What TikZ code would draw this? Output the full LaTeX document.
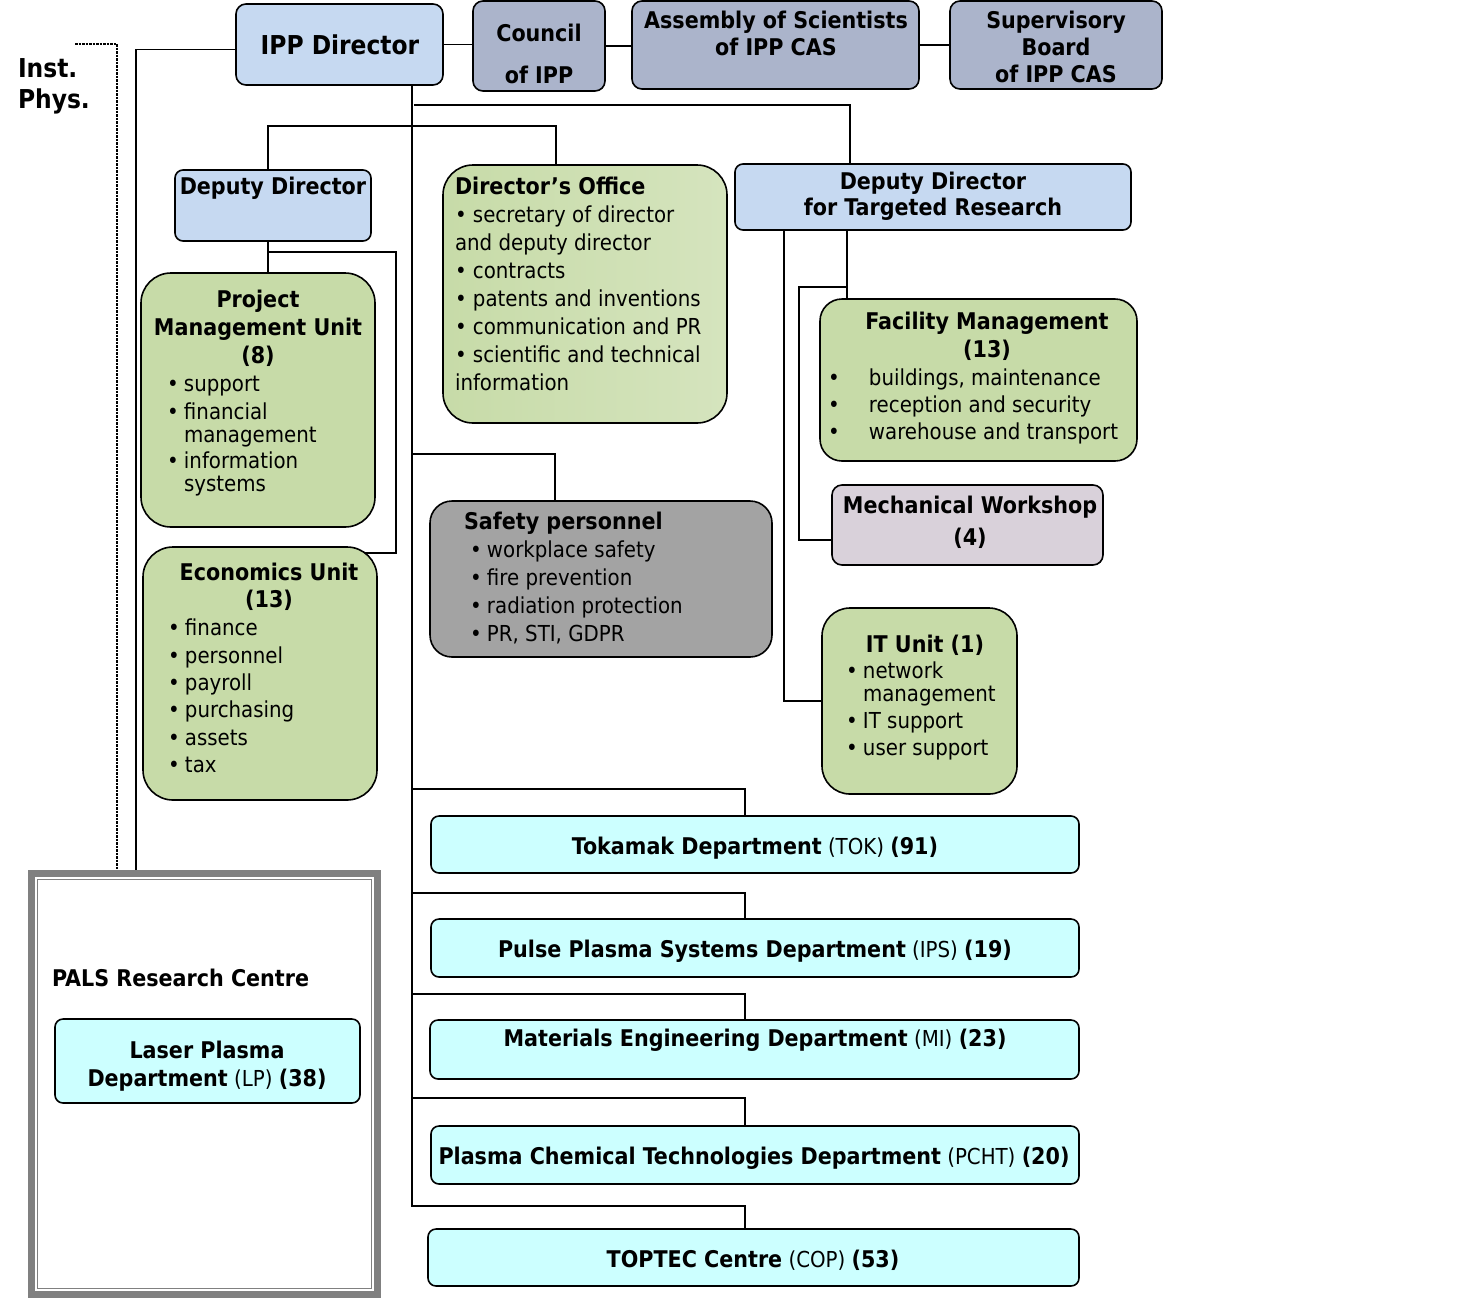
\documentclass[tikz,border=0pt]{standalone}
\usepackage{fontspec}
\setmainfont{DejaVu Sans Condensed}
\usetikzlibrary{fit,backgrounds}
\definecolor{cblue}{HTML}{C6D9F1}
\definecolor{cgb}{HTML}{ABB4CB}
\definecolor{cgreen}{HTML}{C7DBA8}
\definecolor{cgray}{HTML}{A3A3A3}
\definecolor{cmech}{HTML}{D9D1DA}
\definecolor{ccyan}{HTML}{CCFFFF}
\definecolor{cpals}{HTML}{808080}
\newcommand{\bitem}[1]{\makebox[17pt][l]{•}#1}
\newcommand{\bcont}[1]{\hspace*{17pt}#1}
\newcommand{\bfx}[1]{{\fontsize{23}{28}\selectfont\bfseries #1}}
\begin{document}
\begin{tikzpicture}[x=1pt,y=-1pt,line width=1.6pt,
  every node/.style={inner sep=0pt,outer sep=0pt},
  bx/.style={draw=black,line width=1.6pt,rounded corners=#1,inner sep=0pt,outer sep=0pt},
  bx/.default=10pt,
  tx/.style={font=\fontsize{22}{28}\selectfont},
  hd/.style={font=\fontsize{23}{28}\selectfont\bfseries},
  big/.style={font=\fontsize{26}{31}\selectfont\bfseries},
  lst/.style={tx,align=left,anchor=north west},
  cn/.style={draw=black,line width=1.8pt},
  dotl/.style={draw=black,line width=1.4pt,dash pattern=on 2.5pt off 1pt}]
\useasboundingbox (0,0) rectangle (1466,1299);

% ---------- top row ----------
\node[bx=10pt,fill=cblue,fit={(236,4) (443,85)}] (ipp) {};
\node[big] (ippt) at (340,45) {IPP Director};
\node[bx=10pt,fill=cgb,fit={(473,1) (605,91)}] (council) {};
\node[hd,align=center] (councilt) at (539,54) {Council\\[14pt]of IPP};
\node[bx=10pt,fill=cgb,fit={(632,1) (919,89)}] (asm) {};
\node[hd,align=center] (asmt) at (776,33.5) {Assembly of Scientists\\[-1pt]of IPP CAS};
\node[bx=10pt,fill=cgb,fit={(950,1) (1162,89)}] (sup) {};
\node[hd,align=center] (supt) at (1056,47) {Supervisory\\[-1pt]Board\\[-1pt]of IPP CAS};
\node[big,align=left,anchor=west] (inst) at (18,86) {Inst.\\Phys.};

% ---------- deputies ----------
\node[bx=8pt,fill=cblue,fit={(175,170) (371,241)}] (dd) {};
\node[hd] (ddt) at (273,188) {Deputy Director};
\node[bx=8pt,fill=cblue,fit={(735,164) (1131,230)}] (ddtr) {};
\node[hd,align=center] (ddtrt) at (933,196) {Deputy Director\\[-2pt]for Targeted Research};

% ---------- director's office ----------
\node[bx=30pt,left color=cgreen,right color=cgreen!75!white,fit={(443,165) (727,423)}] (do) {};
\node[lst] (dot) at (455,175) {\strut\bfx{Director’s Office}\\• secretary of director\\and deputy director\\• contracts\\• patents and inventions\\• communication and PR\\• scientific and technical\\information};

% ---------- project management unit ----------
\node[bx=30pt,fill=cgreen,fit={(141,273) (375,527)}] (pmu) {};
\node[hd,align=center,anchor=north] (pmuh) at (258,288) {\strut Project\\Management Unit\\(8)};
\node[lst] (pmul) at (167,372) {\strut\bitem{support}\\\bitem{financial}\\[-5pt]\bcont{management}\\[-2pt]\bitem{information}\\[-5pt]\bcont{systems}};

% ---------- economics unit ----------
\node[bx=30pt,fill=cgreen,fit={(143,547) (377,800)}] (econ) {};
\node[hd,align=center,anchor=north] (econh) at (269,561) {\strut Economics Unit\\[-1pt](13)};
\node[lst] (econl) at (168,616) {\strut\bitem{finance}\\[-0.6pt]\bitem{personnel}\\[-0.6pt]\bitem{payroll}\\[-0.6pt]\bitem{purchasing}\\[-0.6pt]\bitem{assets}\\[-0.6pt]\bitem{tax}};

% ---------- safety ----------
\node[bx=22pt,fill=cgray,fit={(430,501) (772,657)}] (safety) {};
\node[lst] (safl) at (464,510) {\strut\bfx{Safety personnel}\\\hspace*{6pt}\bitem{workplace safety}\\\hspace*{6pt}\bitem{fire prevention}\\\hspace*{6pt}\bitem{radiation protection}\\\hspace*{6pt}\bitem{PR, STI, GDPR}};

% ---------- facility / mechanical / IT ----------
\node[bx=22pt,fill=cgreen,fit={(820,299) (1137,461)}] (fac) {};
\node[hd,align=center,anchor=north] (fach) at (987,310) {\strut Facility Management\\(13)};
\node[lst] (facl) at (828,366) {\strut\makebox[41pt][l]{•}buildings, maintenance\\[-1pt]\makebox[41pt][l]{•}reception and security\\[-1pt]\makebox[41pt][l]{•}warehouse and transport};
\node[bx=10pt,fill=cmech,fit={(832,485) (1103,565)}] (mech) {};
\node[hd,align=center] (mecht) at (970,522) {Mechanical Workshop\\[4pt](4)};
\node[bx=28pt,fill=cgreen,fit={(822,608) (1017,794)}] (it) {};
\node[hd] (ith) at (925,645) {IT Unit (1)};
\node[lst] (itl) at (846,659) {\strut\bitem{network}\\[-5pt]\bcont{management}\\[-1pt]\bitem{IT support}\\[-1pt]\bitem{user support}};

% ---------- departments ----------
\node[bx=8pt,fill=ccyan,fit={(431,816) (1079,873)}] (tok) {};
\node[tx] (tokt) at (755,848) {\bfx{Tokamak Department} (TOK) \bfx{(91)}};
\node[bx=8pt,fill=ccyan,fit={(431,919) (1079,977)}] (ips) {};
\node[tx] (ipst) at (755,951) {\bfx{Pulse Plasma Systems Department} (IPS) \bfx{(19)}};
\node[bx=8pt,fill=ccyan,fit={(430,1020) (1079,1079)}] (mi) {};
\node[tx] (mit) at (755,1040) {\bfx{Materials Engineering Department} (MI) \bfx{(23)}};
\node[bx=8pt,fill=ccyan,fit={(431,1126) (1079,1184)}] (pcht) {};
\node[tx] (pchtt) at (754,1158) {\bfx{Plasma Chemical Technologies Department} (PCHT) \bfx{(20)}};
\node[bx=8pt,fill=ccyan,fit={(428,1229) (1079,1286)}] (toptec) {};
\node[tx] (toptect) at (753,1260) {\bfx{TOPTEC Centre} (COP) \bfx{(53)}};

% ---------- PALS ----------
\node[draw=cpals,line width=7pt,fill=white,inner sep=0pt,outer sep=0pt,fit={(31.5,873.5) (377.5,1294.5)}] (pals) {};
\draw[cpals,line width=1.5pt] ([shift={(6pt,-6pt)}]pals.north west) rectangle ([shift={(-6pt,6pt)}]pals.south east);
\node[hd,anchor=west] (palst) at (52,978) {PALS Research Centre};
\node[bx=8pt,fill=ccyan,fit={(55,1019) (360,1103)}] (lp) {};
\node[tx,align=center] (lpt) at (207,1066) {\bfx{Laser Plasma}\\\bfx{Department} (LP) \bfx{(38)}};

% ---------- connectors ----------
\begin{scope}[on background layer]
\begin{scope}[line width=1.8pt]
\coordinate (instend) at (75,44);
\coordinate (b0) at (414,105);
\coordinate (b1) at (412,454);
\coordinate (b2) at (412,789);
\coordinate (b3) at (412,893);
\coordinate (b4) at (412,994);
\coordinate (b5) at (412,1098);
\coordinate (ddbr) at (268,252);
\coordinate (trbr) at (847,287);
\draw[cn] (ipp.east) -- (ipp.east -| council.west);
\draw[cn] (council.east) -- (council.east -| asm.west);
\draw[cn] (asm.east) -- (asm.east -| sup.west);
\draw[cn] ([yshift=-5pt]ipp.west) -| ([xshift=104.5pt]pals.north west);
\draw[dotl] (instend) -| ([xshift=85.5pt]pals.north west);
\draw[cn] (ipp.south -| 412,0) -- (412,1206) -| (toptec.north -| 745,0);
\draw[cn] (b0) -| (ddtr.north -| 850,0);
\draw[cn] (dd.north -| 268,0) -- (268,126) -| (do.north -| 556,0);
\draw[cn] (b1) -| (safety.north -| 555,0);
\draw[cn] (b2) -| (tok.north -| 745,0);
\draw[cn] (b3) -| (ips.north -| 745,0);
\draw[cn] (b4) -| (mi.north -| 745,0);
\draw[cn] (b5) -| (pcht.north -| 745,0);
\draw[cn] (dd.south -| 268,0) -- (pmu.north -| 268,0);
\draw[cn] (ddbr) -| (396,553) -- ([shift={(-12pt,-6pt)}]econ.north east);
\draw[cn] (ddtr.south -| 784,0) |- (it.west);
\draw[cn] (ddtr.south -| 847,0) -- (fac.north -| 847,0);
\draw[cn] (trbr) -| (799,540) -- ([yshift=-15pt]mech.west);
\end{scope}
\end{scope}
\end{tikzpicture}
\end{document}
